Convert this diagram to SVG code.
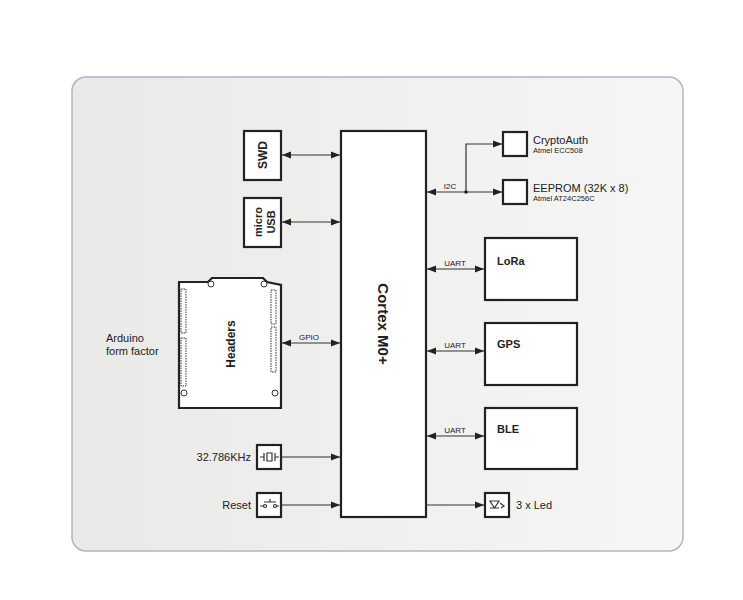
<svg xmlns="http://www.w3.org/2000/svg" width="743" height="600" viewBox="0 0 743 600">
<style>
.b{fill:#fff;stroke:#222;stroke-width:2.2}
.t{font-family:"Liberation Sans",Arial,sans-serif;fill:#222}
.c{stroke:#333;stroke-width:1.2;fill:none}
.l{font-size:8px}
</style>
<defs>
<marker id="a" viewBox="0 0 10 10" refX="10" refY="5" markerWidth="9" markerHeight="9" markerUnits="userSpaceOnUse" orient="auto-start-reverse"><path d="M0,1L10,5L0,9z" fill="#222"/></marker>
<linearGradient id="g" x1="0" y1="0" x2="1" y2="0"><stop offset="0" stop-color="#e9e9e8"/><stop offset="1" stop-color="#f6f6f6"/></linearGradient>
</defs>
<rect width="743" height="600" fill="#fff"/>
<rect x="72" y="77" width="611" height="474" rx="14" fill="url(#g)" stroke="#b6b0c8" stroke-width="1.5"/>
<g id="cortex"><rect class="b" x="341" y="131" width="85" height="386"/>
<text class="t" font-size="15" font-weight="bold" transform="translate(378,324) rotate(90)" text-anchor="middle">Cortex M0+</text></g>
<g id="swd"><rect class="b" x="244" y="131" width="37" height="49"/><text class="t" font-size="12" font-weight="bold" transform="translate(267,155) rotate(-90)" text-anchor="middle">SWD</text></g>
<g id="usb"><rect class="b" x="244" y="198" width="37" height="49"/><text class="t" font-size="11" font-weight="bold" transform="translate(262,222) rotate(-90)" text-anchor="middle">micro</text><text class="t" font-size="11" font-weight="bold" transform="translate(275,222) rotate(-90)" text-anchor="middle">USB</text></g>
<g id="headers">
<path class="b" d="M179,282 L208,282 L212,278 L263,278 L267,282 L281,285 L281,408 L179,408 Z"/>
<g fill="none" stroke="#333" stroke-width="1"><circle cx="211" cy="284" r="3"/><circle cx="264" cy="284" r="3"/><circle cx="184" cy="393" r="3"/><circle cx="275" cy="393" r="3"/>
<rect x="181" y="289" width="5" height="44" stroke-dasharray="1.5 1"/><rect x="181" y="338" width="5" height="48" stroke-dasharray="1.5 1"/><rect x="271" y="290" width="5" height="34" stroke-dasharray="1.5 1"/><rect x="271" y="327" width="5" height="45" stroke-dasharray="1.5 1"/></g>
<text class="t" font-size="12" font-weight="bold" transform="translate(235,344) rotate(-90)" text-anchor="middle">Headers</text></g>
<g id="arduino"><text class="t" font-size="11" x="106" y="342">Arduino</text><text class="t" font-size="11" x="106" y="355">form factor</text></g>
<g id="xtal"><rect class="b" x="257" y="445" width="24" height="24"/><path class="c" d="M260,457h4M264,453v8M267,453h5v8h-5zM275,453v8M275,457h4"/><text class="t" font-size="11" x="251" y="461" text-anchor="end">32.786KHz</text></g>
<g id="reset"><rect class="b" x="257" y="493" width="24" height="24"/><path class="c" d="M260,506h4M276,506h3M264,502h12M270,499v3"/><circle cx="265" cy="506" r="1.5" class="c"/><circle cx="275" cy="506" r="1.5" class="c"/><text class="t" font-size="11" x="251" y="509" text-anchor="end">Reset</text></g>
<g id="crypto"><rect class="b" x="503" y="132" width="24" height="24"/><text class="t" font-size="11" x="533" y="144">CryptoAuth</text><text class="t" font-size="7.5" x="533" y="153">Atmel ECC508</text></g>
<g id="eeprom"><rect class="b" x="503" y="180" width="24" height="24"/><text class="t" font-size="11" x="533" y="192">EEPROM (32K x 8)</text><text class="t" font-size="7.5" x="533" y="201">Atmel AT24C256C</text></g>
<g id="lora"><rect class="b" x="485" y="238" width="92" height="62"/><text class="t" font-size="11" font-weight="bold" x="497" y="265">LoRa</text></g>
<g id="gps"><rect class="b" x="485" y="323" width="92" height="62"/><text class="t" font-size="11" font-weight="bold" x="497" y="348">GPS</text></g>
<g id="ble"><rect class="b" x="485" y="408" width="92" height="61"/><text class="t" font-size="11" font-weight="bold" x="497" y="433">BLE</text></g>
<g id="led"><rect class="b" x="485" y="493" width="24" height="24"/><path class="c" d="M490,501h9l-4.5,7zM490,508h9M500,503l4,3l-3,2M503,506"/><text class="t" font-size="11" x="516" y="509">3 x Led</text></g>
<g id="connectors">
<path class="c" d="M282,155H340" marker-start="url(#a)" marker-end="url(#a)"/>
<path class="c" d="M282,222H340" marker-start="url(#a)" marker-end="url(#a)"/>
<path class="c" d="M282,343H340" marker-start="url(#a)" marker-end="url(#a)"/>
<text class="t l" x="309" y="340" text-anchor="middle">GPIO</text>
<path class="c" d="M281,457H340" marker-end="url(#a)"/>
<path class="c" d="M281,505H340" marker-end="url(#a)"/>
<path class="c" d="M427,192H502" marker-start="url(#a)" marker-end="url(#a)"/>
<path class="c" d="M466,192V144H502" marker-end="url(#a)"/>
<circle cx="466" cy="192" r="1.8" fill="#222"/>
<text class="t l" x="450" y="189" text-anchor="middle">I2C</text>
<path class="c" d="M427,269H484" marker-start="url(#a)" marker-end="url(#a)"/>
<text class="t l" x="455" y="266" text-anchor="middle">UART</text>
<path class="c" d="M427,351H484" marker-start="url(#a)" marker-end="url(#a)"/>
<text class="t l" x="455" y="348" text-anchor="middle">UART</text>
<path class="c" d="M427,436H484" marker-start="url(#a)" marker-end="url(#a)"/>
<text class="t l" x="455" y="433" text-anchor="middle">UART</text>
<path class="c" d="M426,505H484" marker-end="url(#a)"/>
</g>
</svg>
